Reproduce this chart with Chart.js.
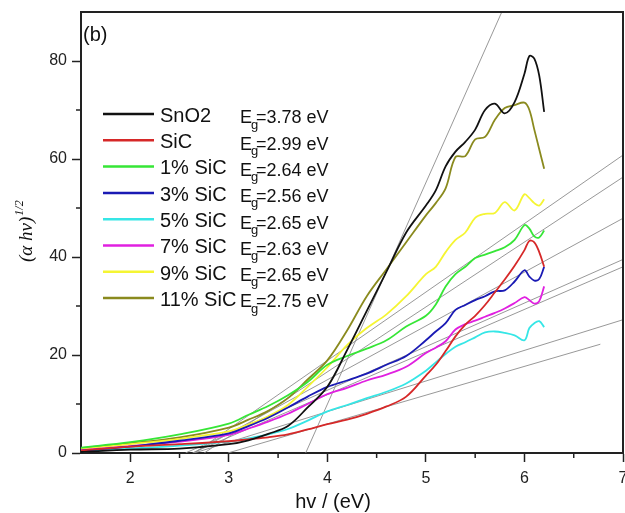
<!DOCTYPE html>
<html>
<head>
<meta charset="utf-8">
<script src="https://cdn.jsdelivr.net/npm/chart.js@4.4.1/dist/chart.umd.min.js"></script>
<style>
  html, body { margin: 0; padding: 0; background: #fff; }
  canvas { display: block; }
</style>
</head>
<body>
<canvas id="grafica" width="625" height="513"></canvas>
<script>
// photon energy (eV), shared by every curve
const xs = [1.5, 2.0, 2.5, 3.0, 3.2, 3.4, 3.6, 3.8, 4.0, 4.2, 4.4, 4.6, 4.8, 5.0,
            5.1, 5.2, 5.3, 5.4, 5.5, 5.6, 5.7, 5.8, 5.9, 6.0, 6.05, 6.1, 6.15, 6.2];

// (alpha h nu)^1/2
const sno2 = [0.2, 0.7, 0.9, 1.8, 2.6, 3.9, 5.5, 9.3, 13.5, 21, 29, 37, 45, 50.5,
              53.6, 58.5, 61.5, 63.5, 66, 70, 71.3, 69.3, 71.6, 77.4, 81, 80.5, 77, 69.6];
const sic = [0.5, 1.3, 1.8, 2.4, 2.8, 3.2, 3.8, 4.8, 5.9, 6.8, 8.0, 9.5, 11.5, 15.8,
             18, 20.8, 23.8, 26.2, 28, 30.2, 32.8, 35.4, 38.2, 41.4, 43.3, 43, 41, 38];
const sic1 = [1.1, 2.2, 3.8, 6.0, 7.8, 9.6, 11.8, 14.5, 18, 19.8, 21.3, 23, 25.8, 28,
              30.3, 34, 36.5, 38, 39.8, 40.5, 41.2, 42, 43.5, 46.5, 45.8, 44.2, 44, 45.4];
const sic3 = [0.5, 1.3, 2.5, 4.0, 5.5, 7.2, 9.3, 11.5, 13.5, 14.8, 16.2, 18, 19.8, 23,
              24.8, 26.5, 29.2, 30.2, 31.2, 32, 33, 33.2, 35, 37.3, 36, 35.2, 35.5, 38];
const sic5 = [0.3, 0.9, 1.5, 2.3, 3.0, 3.8, 4.9, 6.6, 8.5, 9.8, 11.2, 12.5, 14.2, 16.8,
              18.5, 20.2, 21.7, 22.6, 23.6, 24.6, 24.8, 24.5, 24.0, 23.0, 25.5, 26.5, 26.9, 25.7];
const sic7 = [0.6, 1.4, 2.3, 3.7, 5.0, 6.4, 8.0, 10.0, 12.0, 13.3, 14.8, 16, 17.6, 20.4,
              21.5, 22.8, 25.2, 26.3, 27, 27.8, 28.6, 29.5, 30.6, 31.8, 31.2, 30.5, 31, 34];
const sic9 = [0.8, 1.8, 2.9, 4.4, 5.8, 7.5, 9.8, 13.5, 17.5, 22, 25.5, 28.3, 32, 36.5,
              38, 41, 43.5, 45, 48, 48.8, 49, 51.2, 49.5, 52.8, 52, 51, 50.5, 51.8];
const sic11 = [1.0, 2.0, 3.2, 5.2, 6.8, 8.6, 11.2, 15, 18.9, 25, 32, 37.5, 43, 48.5,
               51, 54, 60.4, 60.6, 64, 64.5, 68, 70.4, 71, 71.5, 70, 66, 62, 58];

const seriesNames = ['SnO2', 'SiC', '1% SiC', '3% SiC', '5% SiC', '7% SiC', '9% SiC', '11% SiC'];
const seriesColors = ['#111111', '#d62828', '#36e636', '#1a1ab4', '#36e6e6', '#e020e0', '#f5f533', '#8a8a1e'];
const seriesValues = [sno2, sic, sic1, sic3, sic5, sic7, sic9, sic11];

// band gaps (x-intercept of the fitted lines) and where each fit line ends
const egValues = [3.78, 2.99, 2.64, 2.56, 2.65, 2.63, 2.65, 2.75];
const fitEndX = [5.77, 6.77, 7, 7, 7, 7, 7, 7];
const fitEndY = [90, 22.2, 47.9, 39.5, 27.2, 38, 60.8, 56.3];

const xTicks = [2, 3, 4, 5, 6, 7];
const xMinor = [2.5, 3.5, 4.5, 5.5, 6.5];
const yTicks = [0, 20, 40, 60, 80];
const yMinor = [10, 30, 50, 70];

const FONT = "'Liberation Sans', Arial, sans-serif";

const curvas = seriesValues.map((vals, i) => ({
  label: seriesNames[i],
  data: xs.map((x, j) => ({ x, y: vals[j] })),
  borderColor: seriesColors[i],
  borderWidth: 1.8,
  pointRadius: 0,
  showLine: true,
  tension: 0.35
}));

const ajustes = egValues.map((eg, i) => ({
  label: 'fit ' + seriesNames[i],
  data: [{ x: eg, y: 0 }, { x: fitEndX[i], y: fitEndY[i] }],
  borderColor: '#8c8c8c',
  borderWidth: 0.9,
  pointRadius: 0,
  showLine: true,
  tension: 0
}));

// frame, minor ticks, legend and axis titles
const extras = {
  id: 'extras',
  afterDraw(chart) {
    const { ctx, chartArea: a, scales: { x, y } } = chart;
    const line = (x1, y1, x2, y2) => { ctx.beginPath(); ctx.moveTo(x1, y1); ctx.lineTo(x2, y2); ctx.stroke(); };
    ctx.save();
    ctx.strokeStyle = '#222';
    ctx.lineWidth = 2;
    ctx.beginPath();
    ctx.moveTo(a.left, a.top);
    ctx.lineTo(a.right, a.top);
    ctx.lineTo(a.right, a.bottom);
    ctx.stroke();

    ctx.lineWidth = 1.5;
    xMinor.forEach(v => { const px = x.getPixelForValue(v); line(px, a.bottom, px, a.bottom + 5); });
    yMinor.forEach(v => { const py = y.getPixelForValue(v); line(a.left - 5, py, a.left, py); });

    ctx.fillStyle = '#111';
    ctx.textBaseline = 'alphabetic';
    ctx.font = '20px ' + FONT;
    ctx.fillText('(b)', 83, 41);

    // legend
    seriesNames.forEach((name, i) => {
      const yy = 114 + i * 26.3;
      ctx.strokeStyle = seriesColors[i];
      ctx.lineWidth = 2.5;
      line(103, yy, 154, yy);
      ctx.font = '20px ' + FONT;
      ctx.fillText(name, 160, yy + 7.7);
      ctx.font = '18px ' + FONT;
      ctx.fillText('E', 240, yy + 9.3);
      const wE = ctx.measureText('E').width;
      ctx.font = '13px ' + FONT;
      ctx.fillText('g', 239 + wE, yy + 14.5);
      ctx.font = '18px ' + FONT;
      ctx.fillText('=' + egValues[i].toFixed(2) + ' eV', 244 + wE, yy + 9.3);
    });

    // x title
    ctx.font = '20px ' + FONT;
    ctx.textAlign = 'center';
    ctx.fillText('hv / (eV)', 333, 508);

    // y title, rotated
    ctx.translate(32, 262);
    ctx.rotate(-Math.PI / 2);
    ctx.textAlign = 'left';
    ctx.font = "italic 19px 'Liberation Serif', 'DejaVu Serif', serif";
    ctx.fillText('(\u03b1 h\u03bd)', 0, 0);
    const w = ctx.measureText('(\u03b1 h\u03bd)').width;
    ctx.font = "italic 12px 'Liberation Serif', 'DejaVu Serif', serif";
    ctx.fillText('1/2', w + 1, -9);
    ctx.restore();
  }
};

new Chart(document.getElementById('grafica'), {
  type: 'scatter',
  data: { datasets: [...curvas, ...ajustes] },
  options: {
    responsive: false,
    animation: false,
    layout: { padding: { top: 12, right: 2, bottom: 0, left: 0 } },
    plugins: { legend: { display: false }, tooltip: { enabled: false } },
    scales: {
      x: {
        type: 'linear',
        min: 1.5,
        max: 7,
        afterBuildTicks: s => { s.ticks = xTicks.map(v => ({ value: v })); },
        afterFit: s => { s.height = 60; s.paddingLeft = 0; s.paddingRight = 0; },
        ticks: { font: { family: FONT, size: 16 }, color: '#222', padding: 7, maxRotation: 0, autoSkip: false },
        grid: { drawOnChartArea: false, tickLength: 9, tickWidth: 1.5, tickColor: '#222' },
        border: { width: 2, color: '#222' }
      },
      y: {
        min: 0,
        max: 90,
        afterBuildTicks: s => { s.ticks = yTicks.map(v => ({ value: v })); },
        afterFit: s => { s.width = 81; s.paddingTop = 0; s.paddingBottom = 0; },
        ticks: { font: { family: FONT, size: 16 }, color: '#222', padding: 5, autoSkip: false },
        grid: { drawOnChartArea: false, tickLength: 9, tickWidth: 1.5, tickColor: '#222' },
        border: { width: 2, color: '#222' }
      }
    }
  },
  plugins: [extras]
});
</script>
</body>
</html>
